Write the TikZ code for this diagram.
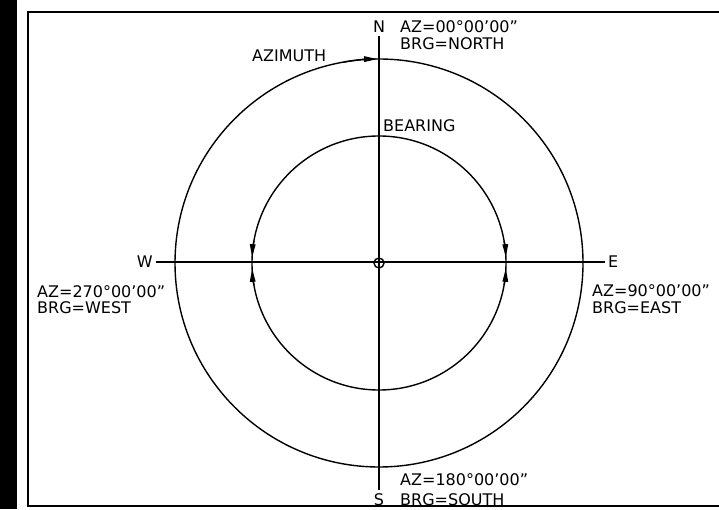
\documentclass[tikz,border=0pt]{standalone}
\usepackage{fontspec}
\setmainfont{DejaVu Sans}
\usetikzlibrary{arrows.meta}
\tikzset{
    compassline/.style={line width=1.4pt},
    compassframe/.style={line width=1.8pt},
    compasspoint/.style={font=\fontsize{16}{17}\selectfont, inner sep=3pt},
    compassnote/.style={font=\fontsize{16}{17}\selectfont, inner sep=0pt, anchor=base west},
    compassarrow/.style={line width=1.4pt, -{Stealth[length=13pt, width=5.5pt, inset=0pt]}}
}
\begin{document}
\begin{tikzpicture}[x=1pt, y=1pt]
    \useasboundingbox (0,0) rectangle (719,509);
    \fill (0,0) rectangle (17,509);
    \draw[compassframe] (719,497) -- (28,497) -- (28,3) -- (719,3);
    \coordinate (centre) at (379,246);
    \node[compasspoint, anchor=base] (north) at (379,476) {N};
    \node[compasspoint, anchor=base] (south) at (379,4) {S};
    \node[compasspoint, anchor=base east] (west) at (156,241) {W};
    \node[compasspoint, anchor=base west] (east) at (605,241) {E};
    \draw[compassline] (north) -- (south);
    \draw[compassline] (west) -- (east);
    \draw[compassline] (centre) circle[radius=204];
    \draw[compassline] (centre) circle[radius=127];
    \draw[compassline] (centre) circle[radius=5];
    \draw[compassarrow] ([shift={(100:204)}]centre) arc[start angle=100, end angle=90.5, radius=204];
    \draw[compassarrow] ([shift={(170:127)}]centre) arc[start angle=170, end angle=177.4, radius=127];
    \draw[compassarrow] ([shift={(190:127)}]centre) arc[start angle=190, end angle=182.6, radius=127];
    \draw[compassarrow] ([shift={(10:127)}]centre) arc[start angle=10, end angle=2.6, radius=127];
    \draw[compassarrow] ([shift={(-10:127)}]centre) arc[start angle=-10, end angle=-2.6, radius=127];
    \node[compassnote] (aznorth) at (400,476) {AZ=00°00'00"};
    \node[compassnote] (brgnorth) at (400,459) {BRG=NORTH};
    \node[compassnote] (azwest) at (37,212) {AZ=270°00'00"};
    \node[compassnote] (brgwest) at (37,196) {BRG=WEST};
    \node[compassnote] (azeast) at (592,213) {AZ=90°00'00"};
    \node[compassnote] (brgeast) at (592,196) {BRG=EAST};
    \node[compassnote] (azsouth) at (400,24) {AZ=180°00'00"};
    \node[compassnote] (brgsouth) at (400,4) {BRG=SOUTH};
    \node[compassnote] (azimuth) at (252,447) {AZIMUTH};
    \node[compassnote] (bearing) at (383,377) {BEARING};
\end{tikzpicture}
\end{document}
